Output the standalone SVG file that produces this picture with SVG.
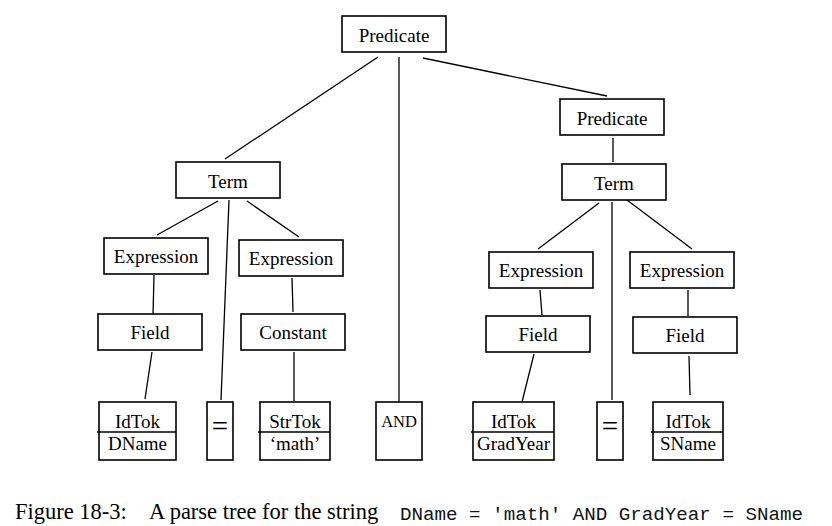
<svg xmlns="http://www.w3.org/2000/svg" width="832" height="526" viewBox="0 0 832 526">
<style>
.box{fill:#fff;stroke:#000;stroke-width:1.6}
.t{font-family:"Liberation Serif","Times New Roman",serif;font-size:19px;fill:#000;text-anchor:middle}
.eq{font-family:"Liberation Serif","Times New Roman",serif;font-size:29px;fill:#000;text-anchor:middle}
.and{font-family:"Liberation Serif","Times New Roman",serif;font-size:16.5px;fill:#000;text-anchor:middle}
.div{stroke:#000;stroke-width:1.5}
#connectors line{stroke:#000;stroke-width:1.3}
.cap{font-family:"Liberation Serif","Times New Roman",serif;font-size:22.5px;fill:#000}
.mono{font-family:"Liberation Mono","Courier New",monospace;font-size:19.2px;fill:#111}
</style>
<rect width="832" height="526" fill="#fff"/>
<g id="connectors">
<line x1="378" y1="57" x2="225" y2="159"/>
<line x1="399" y1="57" x2="399" y2="402"/>
<line x1="423" y1="58" x2="607" y2="96"/>
<line x1="613" y1="138" x2="613" y2="162"/>
<line x1="218" y1="201" x2="157" y2="235"/>
<line x1="229" y1="200" x2="221" y2="400"/>
<line x1="247" y1="201" x2="299" y2="237"/>
<line x1="154" y1="275" x2="153" y2="315"/>
<line x1="292" y1="278" x2="293" y2="312"/>
<line x1="152" y1="352" x2="145" y2="399"/>
<line x1="294" y1="352" x2="294" y2="401"/>
<line x1="599" y1="203" x2="538" y2="249"/>
<line x1="612" y1="202" x2="612" y2="400"/>
<line x1="627" y1="200" x2="692" y2="249"/>
<line x1="540" y1="290" x2="542" y2="315"/>
<line x1="688" y1="290" x2="688" y2="316"/>
<line x1="534" y1="354" x2="522" y2="402"/>
<line x1="689" y1="356" x2="690" y2="395"/>
</g>
<g id="pred1"><rect class="box" x="342" y="16" width="104" height="36"/><text class="t" x="394" y="41.5">Predicate</text></g>
<g id="pred2"><rect class="box" x="560" y="99" width="104" height="36"/><text class="t" x="612" y="124.5">Predicate</text></g>
<g id="term1"><rect class="box" x="176" y="162" width="104" height="36"/><text class="t" x="228" y="187.5">Term</text></g>
<g id="term2"><rect class="box" x="562" y="164" width="104" height="36"/><text class="t" x="614" y="189.5">Term</text></g>
<g id="exprL1"><rect class="box" x="104" y="238" width="104" height="36"/><text class="t" x="156" y="263">Expression</text></g>
<g id="exprL2"><rect class="box" x="239" y="240" width="104" height="36"/><text class="t" x="291" y="265">Expression</text></g>
<g id="fieldL"><rect class="box" x="98" y="314" width="104" height="36"/><text class="t" x="150" y="339">Field</text></g>
<g id="constant"><rect class="box" x="241" y="314" width="104" height="36"/><text class="t" x="293" y="339">Constant</text></g>
<g id="exprR1"><rect class="box" x="489" y="252" width="104" height="36"/><text class="t" x="541" y="277">Expression</text></g>
<g id="exprR2"><rect class="box" x="630" y="252" width="104" height="36"/><text class="t" x="682" y="277">Expression</text></g>
<g id="fieldR1"><rect class="box" x="486" y="316" width="104" height="36"/><text class="t" x="538" y="341">Field</text></g>
<g id="fieldR2"><rect class="box" x="633" y="317" width="104" height="36"/><text class="t" x="685" y="342">Field</text></g>
<g id="tok1"><rect class="box" x="99" y="402" width="77" height="58"/><line class="div" x1="97" y1="432" x2="176" y2="432"/><text class="t" x="137.5" y="428">IdTok</text><text class="t" x="137.5" y="450">DName</text></g>
<g id="eq1"><rect class="box" x="207" y="402" width="26" height="58"/><text class="eq" x="220" y="436">=</text></g>
<g id="tok2"><rect class="box" x="260" y="402" width="70" height="58"/><line class="div" x1="258" y1="432" x2="330" y2="432"/><text class="t" x="295" y="428">StrTok</text><text class="t" x="295" y="450">‘math’</text></g>
<g id="and"><rect class="box" x="376" y="402" width="46" height="58"/><text class="and" x="399" y="427">AND</text></g>
<g id="tok3"><rect class="box" x="473" y="402" width="81" height="58"/><line class="div" x1="471" y1="432" x2="554" y2="432"/><text class="t" x="513.5" y="428">IdTok</text><text class="t" x="513.5" y="450">GradYear</text></g>
<g id="eq2"><rect class="box" x="597" y="402" width="26" height="58"/><text class="eq" x="610" y="436">=</text></g>
<g id="tok4"><rect class="box" x="653" y="402" width="70" height="58"/><line class="div" x1="651" y1="432" x2="723" y2="432"/><text class="t" x="688" y="428">IdTok</text><text class="t" x="688" y="450">SName</text></g>
<g id="caption">
<text class="cap" x="15" y="519">Figure 18-3:</text>
<text class="cap" x="149" y="519">A parse tree for the string</text>
<text class="mono" x="400" y="520" xml:space="preserve">DName = 'math' AND GradYear = SName</text>
</g>
</svg>
